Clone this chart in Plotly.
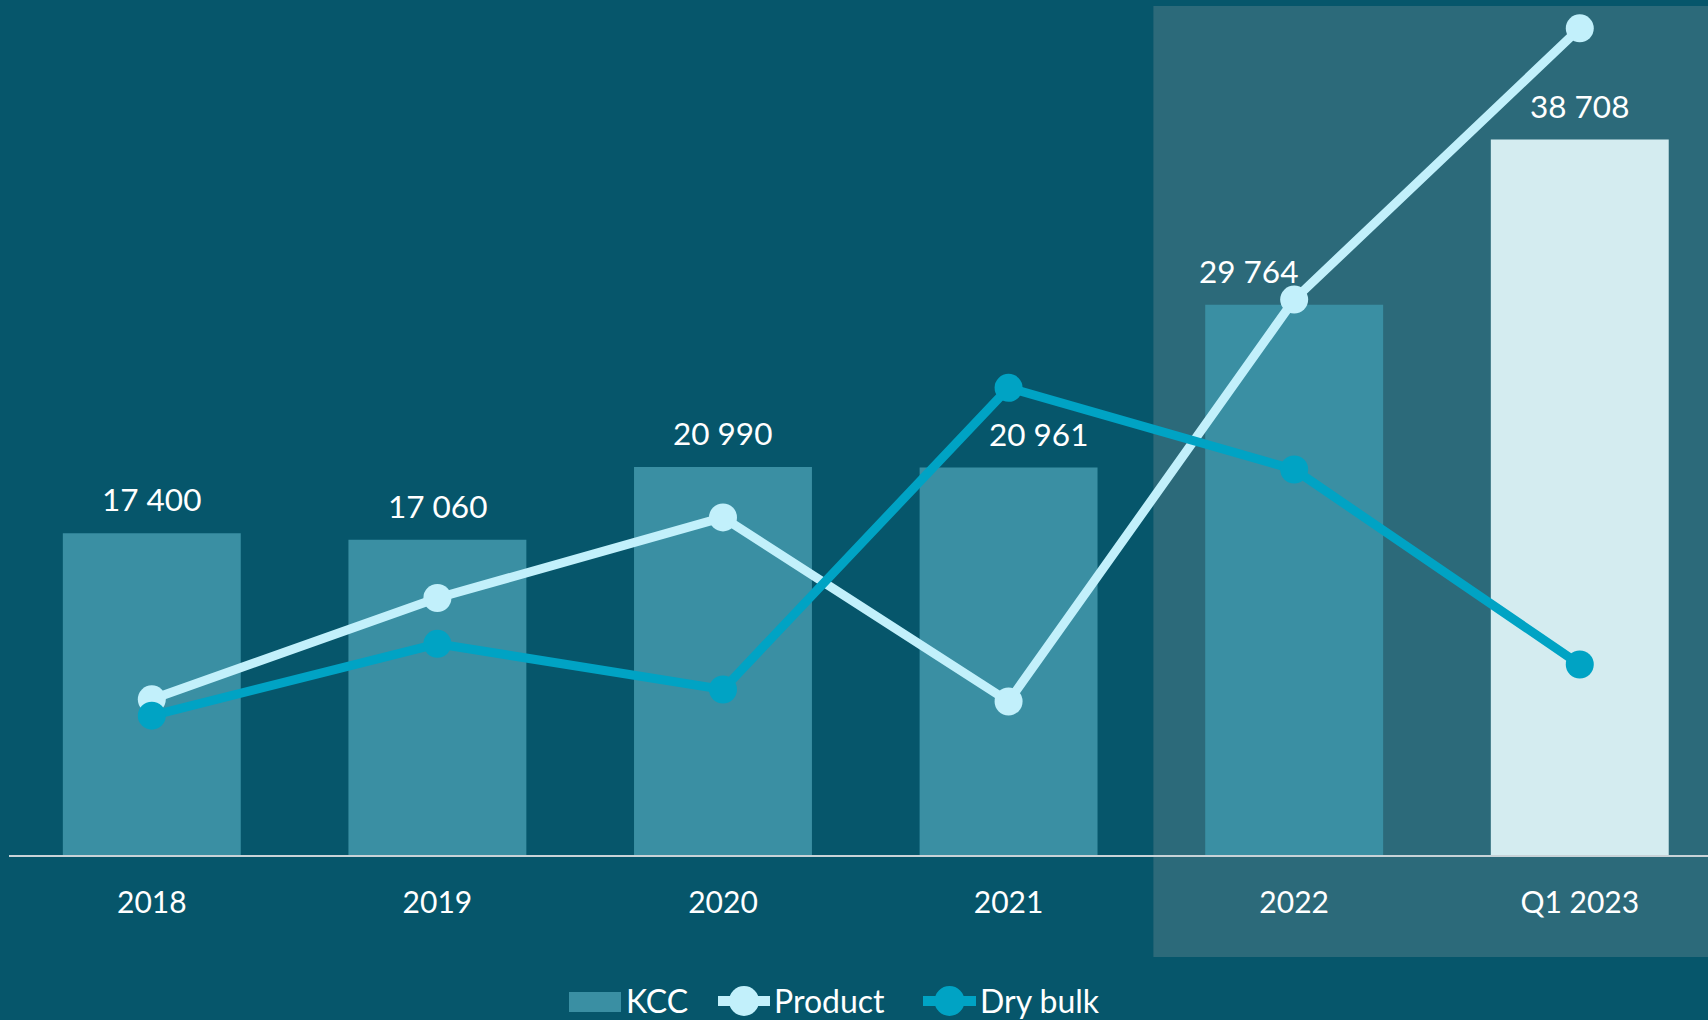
import plotly.graph_objects as go

categories = ["2018", "2019", "2020", "2021", "2022", "Q1 2023"]
kcc = [17400, 17060, 20990, 20961, 29764, 38708]
kcc_labels = ["17 400", "17 060", "20 990", "20 961", "29 764", "38 708"]
product = [8424, 13904, 18264, 8304, 30047, 44724]
dry_bulk = [7536, 11426, 8954, 25276, 20856, 10306]
label_xshift = [0, 0, 0, 30, -46, 0]

BG = "#06566B"
SHADE = "#2C6A7A"
BAR = "#3A8FA3"
BAR_HL = "#D4ECF0"
PRODUCT = "#C2F0FB"
DRY = "#00A3C4"
FONT = "Lato"

W, H = 1708, 1020
ML, MR, MT, MB = 9, 0, 6, 165
PW, PH = W - ML - MR, H - MT - MB


def px_x(px):
    return (px - ML) / PW


def px_y(py):
    return (H - MB - py) / PH


bar_colors = [BAR] * 5 + [BAR_HL]
xi = list(range(len(categories)))

fig = go.Figure()
fig.add_trace(go.Bar(x=xi, y=kcc, name="KCC", marker=dict(color=bar_colors, line=dict(width=0))))
fig.add_trace(go.Scatter(x=xi, y=product, name="Product", mode="lines+markers",
                         line=dict(color=PRODUCT, width=9), marker=dict(size=28, color=PRODUCT),
                         cliponaxis=False))
fig.add_trace(go.Scatter(x=xi, y=dry_bulk, name="Dry bulk", mode="lines+markers",
                         line=dict(color=DRY, width=9), marker=dict(size=28, color=DRY),
                         cliponaxis=False))

for i, v, t, xs in zip(xi, kcc, kcc_labels, label_xshift):
    fig.add_annotation(x=i, y=v, text=t, showarrow=False, yanchor="bottom", yshift=13, xshift=xs,
                       font=dict(family=FONT, size=31.5, color="white"))

# highlighted period background
fig.add_shape(type="rect", xref="x", yref="paper", x0=3.507, x1=6, y0=px_y(957), y1=1.0,
              fillcolor=SHADE, line=dict(width=0), layer="below")

# custom legend
LY = 1001
fig.add_shape(type="rect", xref="paper", yref="paper", x0=px_x(569), x1=px_x(621),
              y0=px_y(LY + 11), y1=px_y(LY - 9), fillcolor=BAR, line=dict(width=0))
fig.add_annotation(xref="paper", yref="paper", x=px_x(624), y=px_y(LY), text="KCC",
                   showarrow=False, xanchor="left", yanchor="middle",
                   font=dict(family=FONT, size=32, color="white"))
for (x0, x1, col, name) in [(713, 775, PRODUCT, "Product"), (918, 981, DRY, "Dry bulk")]:
    fig.add_shape(type="line", xref="paper", yref="paper", x0=px_x(x0 + 5), x1=px_x(x1 - 5),
                  y0=px_y(LY), y1=px_y(LY), line=dict(color=col, width=10))
    fig.add_shape(type="circle", xref="paper", yref="paper", xsizemode="pixel", ysizemode="pixel",
                  xanchor=px_x((x0 + x1) / 2), yanchor=px_y(LY), x0=-15, x1=15, y0=-15, y1=15,
                  fillcolor=col, line=dict(width=0))
    fig.add_annotation(xref="paper", yref="paper", x=px_x(x1 - 3), y=px_y(LY), text=name,
                       showarrow=False, xanchor="left", yanchor="middle",
                       font=dict(family=FONT, size=32, color="white"))

fig.update_layout(
    width=W, height=H,
    paper_bgcolor=BG, plot_bgcolor="rgba(0,0,0,0)",
    margin=dict(l=ML, r=MR, t=MT, b=MB),
    bargap=0.377,
    font=dict(family=FONT, color="white"),
    showlegend=False,
    xaxis=dict(range=[-0.5, 5.449], showgrid=False, zeroline=False,
               tickmode="array", tickvals=xi, ticktext=categories,
               showline=True, linecolor="#C8D3D8", linewidth=2,
               ticks="outside", ticklen=20, tickcolor="rgba(0,0,0,0)",
               tickfont=dict(family=FONT, size=30, color="white")),
    yaxis=dict(range=[0, 45931], visible=False, showgrid=False, zeroline=False),
)

fig.write_html("out.html")
